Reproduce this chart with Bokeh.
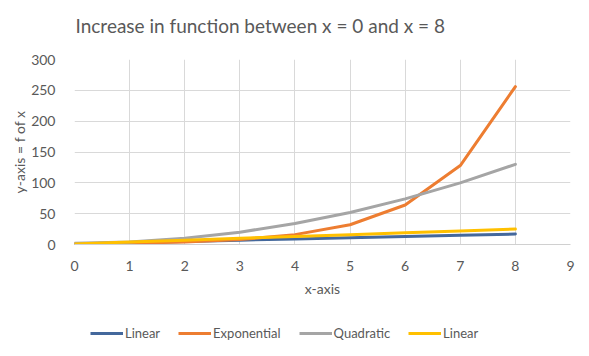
from bokeh.plotting import figure
from bokeh.models import Legend, LegendItem, FixedTicker, Range1d, Label
from bokeh.layouts import column
from bokeh.embed import file_html
from bokeh.resources import INLINE

x = [0, 1, 2, 3, 4, 5, 6, 7, 8]
linear1 = [1, 3, 5, 7, 9, 11, 13, 15, 17]
exponential = [1, 2, 4, 8, 16, 32, 64, 128, 256]
quadratic = [2, 4, 10, 20, 34, 52, 74, 100, 130]
linear2 = [1, 4, 7, 10, 13, 16, 19, 22, 25]
x_ticks = [0, 1, 2, 3, 4, 5, 6, 7, 8, 9]
y_ticks = [0, 50, 100, 150, 200, 250, 300]
title_text = "Increase in function between x = 0 and x = 8"

FONT = "Lato"
TXT = "#595959"
colors = ["#44689C", "#ED7D31", "#A5A5A5", "#FFC000"]
series = [("Linear", linear1), ("Exponential", exponential), ("Quadratic", quadratic), ("Linear", linear2)]


def blank(h):
    f = figure(width=589, height=h, output_backend="svg", toolbar_location=None,
               x_axis_location=None, y_axis_location=None,
               min_border_left=0, min_border_right=0, min_border_top=0, min_border_bottom=0)
    f.xgrid.visible = False
    f.ygrid.visible = False
    f.outline_line_color = None
    f.border_fill_color = "white"
    f.background_fill_color = "white"
    return f


# title strip
tf = blank(40)
tf.add_layout(Label(x=1, y=15, x_units="screen", y_units="screen", text=title_text,
                    text_font=FONT, text_font_size="19px", text_color=TXT,
                    text_align="left", text_baseline="middle"))

# main chart
p = figure(width=589, height=260, output_backend="svg", toolbar_location=None,
           x_range=Range1d(0, 9), y_range=Range1d(0, 300),
           min_border_left=74, min_border_right=19, min_border_top=19, min_border_bottom=56)
p.outline_line_color = None
p.background_fill_color = "white"
p.border_fill_color = "white"

for (name, ys), c in zip(series, colors):
    p.line(x, ys, line_color=c, line_width=3, line_join="round", line_cap="round")

p.xaxis.ticker = FixedTicker(ticks=x_ticks)
p.yaxis.ticker = FixedTicker(ticks=y_ticks)
for ax in (p.xaxis[0], p.yaxis[0]):
    ax.major_tick_line_color = None
    ax.minor_tick_line_color = None
    ax.major_label_text_font = FONT
    ax.major_label_text_font_size = "14px"
    ax.major_label_text_color = TXT
    ax.axis_label_text_font = FONT
    ax.axis_label_text_font_size = "14px"
    ax.axis_label_text_font_style = "normal"
    ax.axis_label_text_color = TXT
p.xaxis.axis_line_color = "#D0D0D0"
p.yaxis.axis_line_color = None
p.xaxis.axis_label = "x-axis"
p.yaxis.axis_label = "y-axis = f of x"
p.xaxis.major_label_standoff = 10
p.yaxis.major_label_standoff = 13
p.xaxis.axis_label_standoff = 6
p.yaxis.axis_label_standoff = 0
p.xgrid.grid_line_color = "#D9D9D9"
p.ygrid.grid_line_color = "#D9D9D9"

# legend strip (lines drawn out of view, only their legend entries show)
lf = blank(56)
lf.x_range = Range1d(100, 101)
lf.y_range = Range1d(1000, 1001)
items = []
for (name, ys), c in zip(series, colors):
    r = lf.line(x, ys, line_color=c, line_width=3)
    items.append(LegendItem(label=name, renderers=[r]))
legend = Legend(items=items, orientation="horizontal", location=(16, 15),
                glyph_width=33, glyph_height=10, label_standoff=2, spacing=18,
                label_text_font=FONT, label_text_font_size="13px", label_text_color=TXT,
                border_line_color=None, background_fill_alpha=0, margin=0, padding=0)
lf.add_layout(legend, "center")

layout = column(tf, p, lf, spacing=0)
open("out.html", "w").write(file_html(layout, INLINE))
